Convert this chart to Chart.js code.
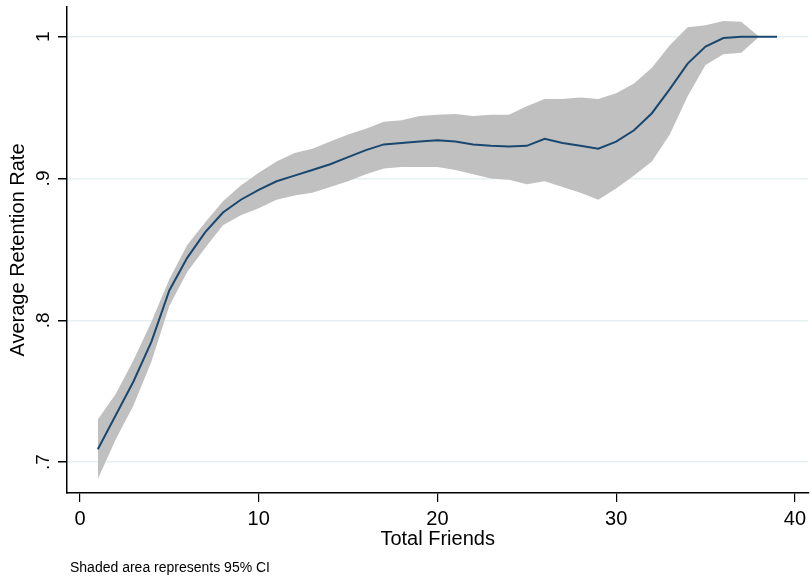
<!DOCTYPE html>
<html>
<head>
<meta charset="utf-8">
<script src="https://cdn.jsdelivr.net/npm/chart.js@4.4.0/dist/chart.umd.min.js"></script>
<style>
  html, body { margin: 0; padding: 0; background: #fff; }
  #wrap { width: 811px; height: 581px; }
</style>
</head>
<body>
<div id="wrap"><canvas id="myChart" width="811" height="581"></canvas></div>
<script>
// total friends (x)
const friends = [1, 2, 3, 4, 5, 6, 7, 8, 9, 10, 11, 12, 13, 14, 15, 16, 17, 18, 19, 20,
                 21, 22, 23, 24, 25, 26, 27, 28, 29, 30, 31, 32, 33, 34, 35, 36, 37, 38, 39];
// average retention rate
const meanRate = [0.709, 0.733, 0.757, 0.785, 0.821, 0.844, 0.862, 0.876, 0.885, 0.892,
                  0.898, 0.902, 0.906, 0.910, 0.915, 0.920, 0.924, 0.925, 0.926, 0.927,
                  0.926, 0.924, 0.923, 0.9225, 0.923, 0.928, 0.925, 0.923, 0.921, 0.926,
                  0.934, 0.946, 0.963, 0.981, 0.993, 0.999, 1.0, 1.0, 1.0];
// 95% CI bounds
const upperCI = [0.730, 0.748, 0.772, 0.799, 0.829, 0.853, 0.869, 0.884, 0.895, 0.904,
                 0.912, 0.918, 0.921, 0.926, 0.931, 0.935, 0.940, 0.941, 0.944, 0.945,
                 0.9455, 0.944, 0.945, 0.945, 0.951, 0.956, 0.956, 0.957, 0.956, 0.960,
                 0.967, 0.978, 0.994, 1.0066, 1.008, 1.011, 1.0105, 1.0, 1.0];
const lowerCI = [0.688, 0.716, 0.740, 0.771, 0.810, 0.834, 0.851, 0.867, 0.874, 0.879,
                 0.885, 0.888, 0.890, 0.894, 0.898, 0.903, 0.907, 0.908, 0.908, 0.908,
                 0.906, 0.903, 0.900, 0.899, 0.896, 0.898, 0.894, 0.890, 0.885, 0.893,
                 0.902, 0.912, 0.931, 0.958, 0.980, 0.9875, 0.9887, 1.0, 1.0];
const xTicks = [0, 10, 20, 30, 40];
const yTicks = [0.7, 0.8, 0.9, 1];
const yTickLabels = ['.7', '.8', '.9', '1'];

const FONT = "'Liberation Sans', Arial, sans-serif";

const pts = arr => arr.map((v, i) => ({ x: friends[i], y: v }));

// y tick labels are rotated like Stata, and there is a note at the bottom
const extrasPlugin = {
  id: 'extras',
  afterDraw(chart) {
    const ctx = chart.ctx;
    const yScale = chart.scales.y;
    ctx.save();
    ctx.fillStyle = '#000';
    ctx.font = '19px ' + FONT;
    ctx.textAlign = 'center';
    ctx.textBaseline = 'middle';
    yTicks.forEach((v, i) => {
      const py = yScale.getPixelForValue(v);
      ctx.save();
      ctx.translate(44, py);
      ctx.rotate(-Math.PI / 2);
      ctx.fillText(yTickLabels[i], 0, 0);
      ctx.restore();
    });
    ctx.font = '14px ' + FONT;
    ctx.textAlign = 'left';
    ctx.fillText('Shaded area represents 95% CI', 70, 568);
    ctx.restore();
  }
};

new Chart(document.getElementById('myChart'), {
  type: 'line',
  data: {
    datasets: [
      {
        label: 'Upper',
        data: pts(upperCI),
        borderWidth: 0,
        pointRadius: 0,
        fill: false,
        order: 2,
      },
      {
        label: 'Lower',
        data: pts(lowerCI),
        borderWidth: 0,
        pointRadius: 0,
        backgroundColor: '#c0c0c0',
        fill: '-1',
        order: 1,
      },
      {
        label: 'Average Retention Rate',
        data: pts(meanRate),
        borderColor: '#1a476f',
        borderWidth: 2,
        pointRadius: 0,
        fill: false,
        tension: 0,
        order: 0,
      },
    ],
  },
  plugins: [extrasPlugin],
  options: {
    responsive: false,
    animation: false,
    layout: { padding: { top: 7, right: 0, bottom: 30, left: 0 } },
    plugins: {
      legend: { display: false },
      tooltip: { enabled: false },
    },
    scales: {
      x: {
        type: 'linear',
        min: -0.725,
        max: 40.75,
        afterBuildTicks: s => { s.ticks = xTicks.map(v => ({ value: v })); },
        afterFit: s => { s.height = 58; },
        grid: { drawOnChartArea: false, tickColor: '#000', tickLength: 9, lineWidth: 1.2 },
        border: { color: '#000', width: 1.5 },
        ticks: { color: '#000', font: { size: 20, family: FONT }, padding: 5, maxRotation: 0 },
        title: {
          display: true,
          text: 'Total Friends',
          color: '#000',
          font: { size: 20, family: FONT },
          padding: { top: 0, bottom: 0 },
        },
      },
      y: {
        min: 0.6782,
        max: 1.0209,
        afterBuildTicks: s => { s.ticks = yTicks.map(v => ({ value: v })); },
        afterFit: s => { s.width = 67; },
        grid: { color: '#e6f0f2', lineWidth: 1.5, tickColor: '#000', tickLength: 9 },
        border: { color: '#000', width: 1.5 },
        ticks: { display: false },
        title: {
          display: true,
          text: 'Average Retention Rate',
          color: '#000',
          font: { size: 20, family: FONT },
          padding: { top: 6, bottom: 0 },
        },
      },
    },
  },
});
</script>
</body>
</html>
